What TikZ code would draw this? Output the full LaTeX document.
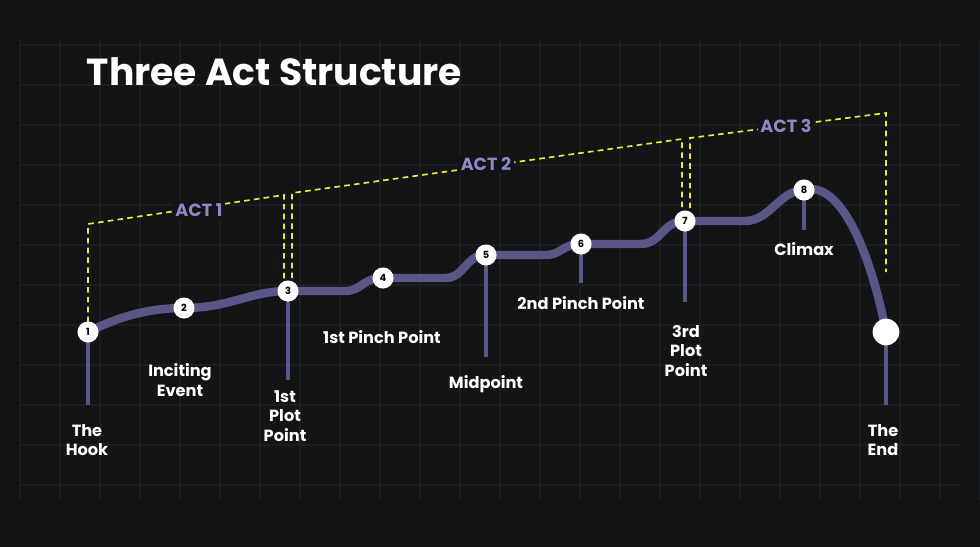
\documentclass[tikz,border=0pt]{standalone}
\usepackage{fontspec}
\setmainfont{Poppins}
\usetikzlibrary{positioning}
\definecolor{bgdark}{HTML}{121416}
\definecolor{gridgray}{HTML}{1C1F22}
\definecolor{plotline}{HTML}{5B5688}
\definecolor{actlav}{HTML}{8E89C4}
\definecolor{actyel}{HTML}{E8EC3A}
\tikzset{
  beat/.style={circle, fill=white, inner sep=0pt, minimum size=15pt, font=\bfseries\fontsize{7}{7}\selectfont, text=black},
  stem/.style={plotline, line width=3pt},
  lbl/.style={text=white, font=\bfseries\fontsize{11.5}{14}\selectfont, align=center},
  actline/.style={actyel, dash pattern=on 4pt off 3pt, line width=1.2pt},
  actlbl/.style={text=actlav, fill=bgdark, inner sep=2pt, font=\bfseries\fontsize{12.5}{12.5}\selectfont}
}
\begin{document}
\begin{tikzpicture}[x=0.025cm, y=-0.025cm]
  \fill[bgdark] (0,0) rectangle (980,547);
  \useasboundingbox (0,0) rectangle (980,547);
  % grid
  \foreach \gx in {20,60,...,980} \draw[gridgray, line width=0.8pt] (\gx,40) -- (\gx,500);
  \foreach \gy in {45,85,...,500} \draw[gridgray, line width=0.8pt] (20,\gy) -- (960,\gy);

  \node[anchor=west, text=white, font=\bfseries\fontsize{26.8}{27}\selectfont] (title) at (82,72) {Three Act Structure};

  % beats
  \coordinate (c1) at (88,332);
  \coordinate (c2) at (184,308);
  \coordinate (c3) at (288,291);
  \coordinate (c4) at (383,278);
  \coordinate (c5) at (486,255);
  \coordinate (c6) at (581,244);
  \coordinate (c7) at (685,221);
  \coordinate (c8) at (804,190);
  \coordinate (c9) at (886,332);

  % act brackets
  \draw[actline] (c1) -- (88,224) -- (284,195) -- (284,288);
  \draw[actline] (292,288) -- (292,193) -- (682,139) -- (682,218);
  \draw[actline] (690,218) -- (690,138) -- (886,113) -- (886,272);
  \node[actlbl] (act1) at (199,210) {ACT 1};
  \node[actlbl] (act2) at (486,164) {ACT 2};
  \node[actlbl] (act3) at (786,126) {ACT 3};

  % stems
  \draw[stem] (c1) -- (88,405);
  \draw[stem] (c2) -- (184,318);
  \draw[stem] (c3) -- (288,380);
  \draw[stem] (c4) -- (383,288);
  \draw[stem] (c5) -- (486,357);
  \draw[stem] (c6) -- (581,283);
  \draw[stem] (c7) -- (685,302);
  \draw[stem] (c8) -- (804,230);
  \draw[stem] (c9) -- (886,405);

  % story curve
  \draw[plotline, line width=6pt, line cap=round]
    (c1) .. controls (120,316) and (150,308) .. (c2)
    .. controls (230,308) and (250,291) .. (c3)
    -- (345,291) .. controls (362,291) and (362,278) .. (c4)
    -- (445,278) .. controls (465,278) and (465,255) .. (c5)
    -- (545,255) .. controls (562,255) and (562,244) .. (c6)
    -- (640,244) .. controls (662,244) and (662,221) .. (c7)
    -- (745,221) .. controls (770,221) and (780,190) .. (c8)
    .. controls (840,180) and (870,250) .. (c9);

  \node[beat] (p1) at (c1) {1};
  \node[beat] (p2) at (c2) {2};
  \node[beat] (p3) at (c3) {3};
  \node[beat] (p4) at (c4) {4};
  \node[beat] (p5) at (c5) {5};
  \node[beat] (p6) at (c6) {6};
  \node[beat] (p7) at (c7) {7};
  \node[beat] (p8) at (c8) {8};
  \node[beat, minimum size=19pt] (p9) at (c9) {};

  % labels
  \node[lbl] (hook) at (87,440) {The\\Hook};
  \node[lbl] (incite) at (180,380) {Inciting\\Event};
  \node[lbl] (plot1) at (285,416) {1st\\Plot\\Point};
  \node[lbl] (pinch1) at (382,337) {1st Pinch Point};
  \node[lbl] (mid) at (486,384) {Midpoint};
  \node[lbl] (pinch2) at (581,303) {2nd Pinch Point};
  \node[lbl] (plot3) at (686,351) {3rd\\Plot\\Point};
  \node[lbl] (climax) at (804,249) {Climax};
  \node[lbl] (theend) at (883,440) {The\\End};
\end{tikzpicture}
\end{document}
